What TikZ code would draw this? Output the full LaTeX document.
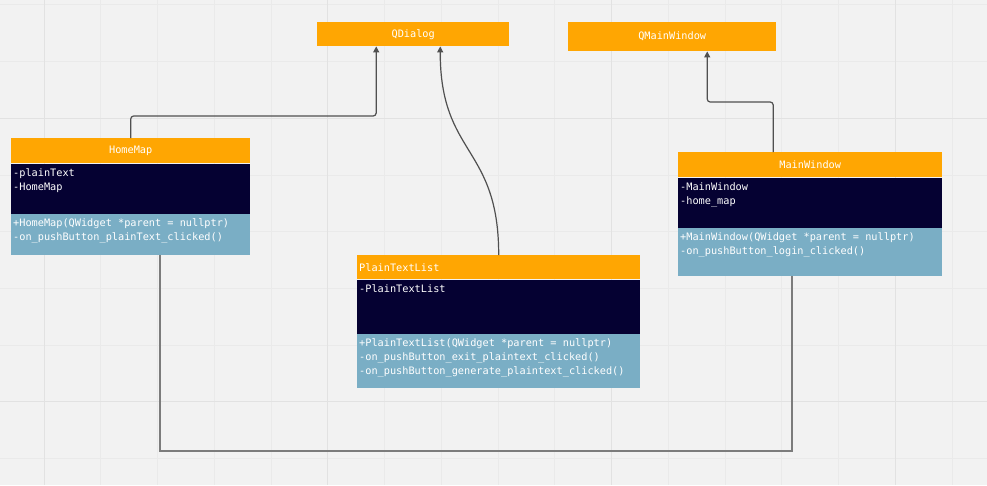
\documentclass[tikz,border=0pt]{standalone}
\usepackage{fontspec}
\setmonofont{DejaVu Sans Mono}
\usetikzlibrary{positioning,arrows.meta}
\definecolor{umlorange}{RGB}{255,166,2}
\definecolor{umlnavy}{RGB}{5,1,50}
\definecolor{umlblue}{RGB}{122,174,197}
\definecolor{canvas}{RGB}{242,242,242}
\definecolor{gridminor}{RGB}{234,234,234}
\definecolor{gridmajor}{RGB}{226,226,226}
\definecolor{wire}{RGB}{80,80,80}
\newcommand{\members}[3]{\parbox[t][#2][t]{#1}{\raggedright\strut #3}}
\tikzset{
  >={Triangle[length=6pt,width=6pt]},
  classname/.style={fill=umlorange, minimum height=25pt, inner xsep=2pt, inner ysep=0pt, anchor=north west},
  compartment/.style={inner xsep=2pt, inner ysep=3pt},
  fields/.style={compartment, fill=umlnavy},
  methods/.style={compartment, fill=umlblue},
  extends/.style={->, draw=wire, line width=1.2pt, rounded corners=3pt},
  assoc/.style={draw=wire!75, line width=1.5pt}
  }

\begin{document}
\begin{tikzpicture}[x=1pt, y=-1pt, text=white, font=\ttfamily\fontsize{10.25}{14}\selectfont]

    % canvas and grid
    \useasboundingbox (0,0) rectangle (987,485);
    \fill[canvas] (0,0) rectangle (987,485);
    \foreach \gx in {44,100.75,...,960}
      \draw[gridminor, line width=0.8pt] (\gx,0) -- (\gx,485);
    \foreach \gy in {4.8,61.5,...,470}
      \draw[gridminor, line width=0.8pt] (0,\gy) -- (987,\gy);
    \foreach \gx in {44,327.75,...,960}
      \draw[gridmajor, line width=1pt] (\gx,0) -- (\gx,485);
    \foreach \gy in {118.2,401.7}
      \draw[gridmajor, line width=1pt] (0,\gy) -- (987,\gy);

    % base classes
    \node [classname, minimum width=192pt, minimum height=24pt] at (317,22) (qd) {QDialog};
    \node [classname, minimum width=208pt, minimum height=29pt] at (568,22) (qmw) {QMainWindow};

    % HomeMap
    \node [classname, minimum width=239pt] at (11,138) (hm) {HomeMap};
    \node [fields, below=0pt of hm] (hm-f) {\members{235pt}{44pt}{-plainText\\-HomeMap}};
    \node [methods, below=0pt of hm-f] (hm-m) {\members{235pt}{35pt}{+HomeMap(QWidget *parent = nullptr)\\-on\_pushButton\_plainText\_clicked()}};

    % PlainTextList
    \node [classname, text width=279pt, minimum height=24pt, align=left] at (357,255) (ptl) {PlainTextList};
    \node [fields, below=0pt of ptl] (ptl-f) {\members{279pt}{48pt}{-PlainTextList}};
    \node [methods, below=0pt of ptl-f] (ptl-m) {\members{279pt}{48pt}{+PlainTextList(QWidget *parent = nullptr)\\-on\_pushButton\_exit\_plaintext\_clicked()\\-on\_pushButton\_generate\_plaintext\_clicked()}};

    % MainWindow
    \node [classname, minimum width=264pt] at (678,152) (mw) {MainWindow};
    \node [fields, below=0pt of mw] (mw-f) {\members{260pt}{44pt}{-MainWindow\\-home\_map}};
    \node [methods, below=0pt of mw-f] (mw-m) {\members{260pt}{42pt}{+MainWindow(QWidget *parent = nullptr)\\-on\_pushButton\_login\_clicked()}};

    % inheritance
    \draw[extends] (hm.north) -- ++(0,-22) -| ([xshift=-37pt]qd.south);
    \draw[extends] (ptl.north) .. controls +(0,-110) and +(0,110) .. ([xshift=27pt]qd.south);
    \draw[extends] ([xshift=-37pt]mw.north) -- ++(0,-50) -| ([xshift=35pt]qmw.south);

    % association
    \draw[assoc] ([xshift=29.5pt]hm-m.south) -- ++(0,196) -| ([xshift=-18pt]mw-m.south);

\end{tikzpicture}
\end{document}
